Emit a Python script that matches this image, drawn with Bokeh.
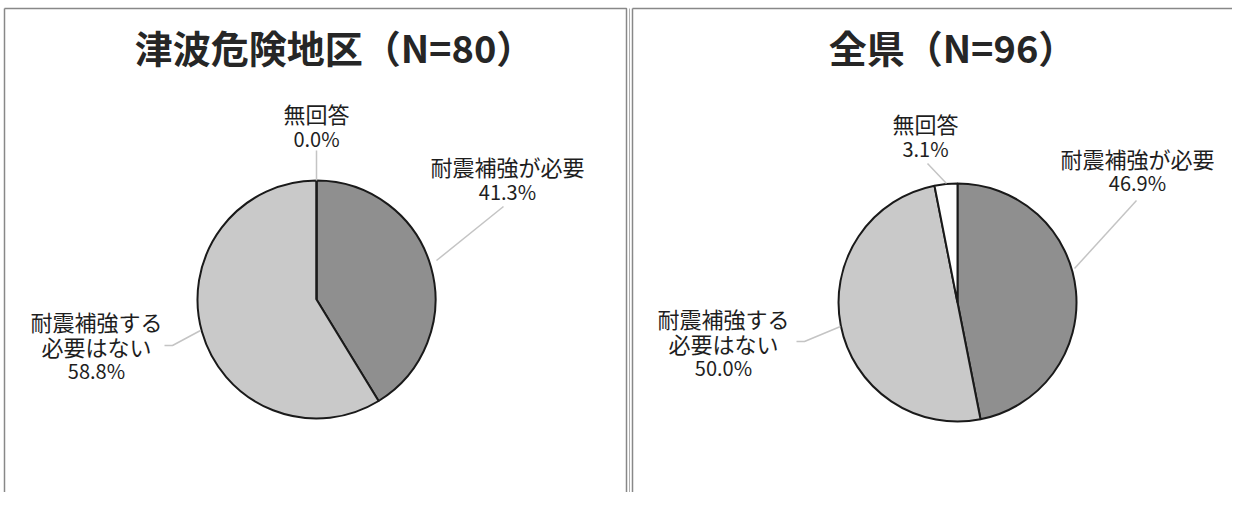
import math
from bokeh.plotting import figure
from bokeh.models import Range1d
from bokeh.core.properties import value
from bokeh.embed import file_html
from bokeh.resources import INLINE

# ---- data ----
categories = ["耐震補強が必要", "耐震補強する\n必要はない", "無回答"]
titles = ["津波危険地区（N=80）", "全県（N=96）"]
left_values = [41.3, 58.8, 0.0]
right_values = [46.9, 50.0, 3.1]
slice_colors = ["#8f8f8f", "#c9c9c9", "#ffffff"]

FONT = "Noto Sans CJK JP"
W, H = 1232, 492

p = figure(width=W, height=H, output_backend="svg", toolbar_location=None,
           x_range=Range1d(0, W), y_range=Range1d(0, H),
           min_border=0, outline_line_color=None)
p.axis.visible = False
p.grid.visible = False

def Y(py):
    # page y (top-down) to data y (bottom-up)
    return H - py

# panel borders
for x0, x1 in [(4, 626), (632, 1250)]:
    p.line([x0, x1, x1, x0, x0], [Y(8), Y(8), Y(520), Y(520), Y(8)],
           line_color="#888888", line_width=1.5)
p.line([629, 629], [Y(8), Y(520)], line_color="#b0b0b0", line_width=1)

def pie(cx, cy, r, vals, title, tx, label_pos, leaders):
    total = sum(vals)
    cum = 0.0
    for v, c in zip(vals, slice_colors):
        a0 = math.pi / 2 - 2 * math.pi * cum / total
        cum += v
        a1 = math.pi / 2 - 2 * math.pi * cum / total
        if v > 0:
            p.wedge(x=[cx], y=[Y(cy)], radius=r, start_angle=a0, end_angle=a1,
                    direction="clock", fill_color=c, line_color="#1a1a1a", line_width=2)
    if vals[2] == 0:
        p.line([cx, cx], [Y(cy), Y(cy - r)], line_color="#1a1a1a", line_width=2)
    p.text(x=[tx], y=[Y(46)], text=[title], text_font=value(FONT),
           text_font_style="bold", text_font_size="38px", text_color="#262626",
           text_align="center", text_baseline="middle")
    for xs, ys in leaders:
        p.line(xs, [Y(y) for y in ys], line_color="#c4c4c4", line_width=1.5)
    for (lx, ly, gap), cat, v in zip(label_pos, categories, vals):
        lines = cat.split("\n") + [f"{v:.1f}%"]
        for i, t in enumerate(lines):
            is_pct = i == len(lines) - 1
            p.text(x=[lx], y=[Y(ly + i * gap)], text=[t], text_font=value(FONT),
                   text_font_size="20px" if is_pct else "22px",
                   text_color="#1e1e1e", text_align="center",
                   text_baseline="middle")

pie(316, 299, 119, left_values, titles[0], 334,
    [(507, 165, 26), (96, 320, 25), (316, 112, 26)],
    [([503, 436], [206, 260]), ([164, 172, 200], [345, 345, 330]), ([316, 316], [150, 180])])
pie(957, 302, 119, right_values, titles[1], 952,
    [(1137, 157, 25), (723, 317, 25), (925, 122, 26)],
    [([1136, 1074], [200, 268]), ([796, 804, 840], [341, 341, 326]), ([927, 946], [163, 183])])

open("out.html", "w").write(file_html(p, INLINE))
